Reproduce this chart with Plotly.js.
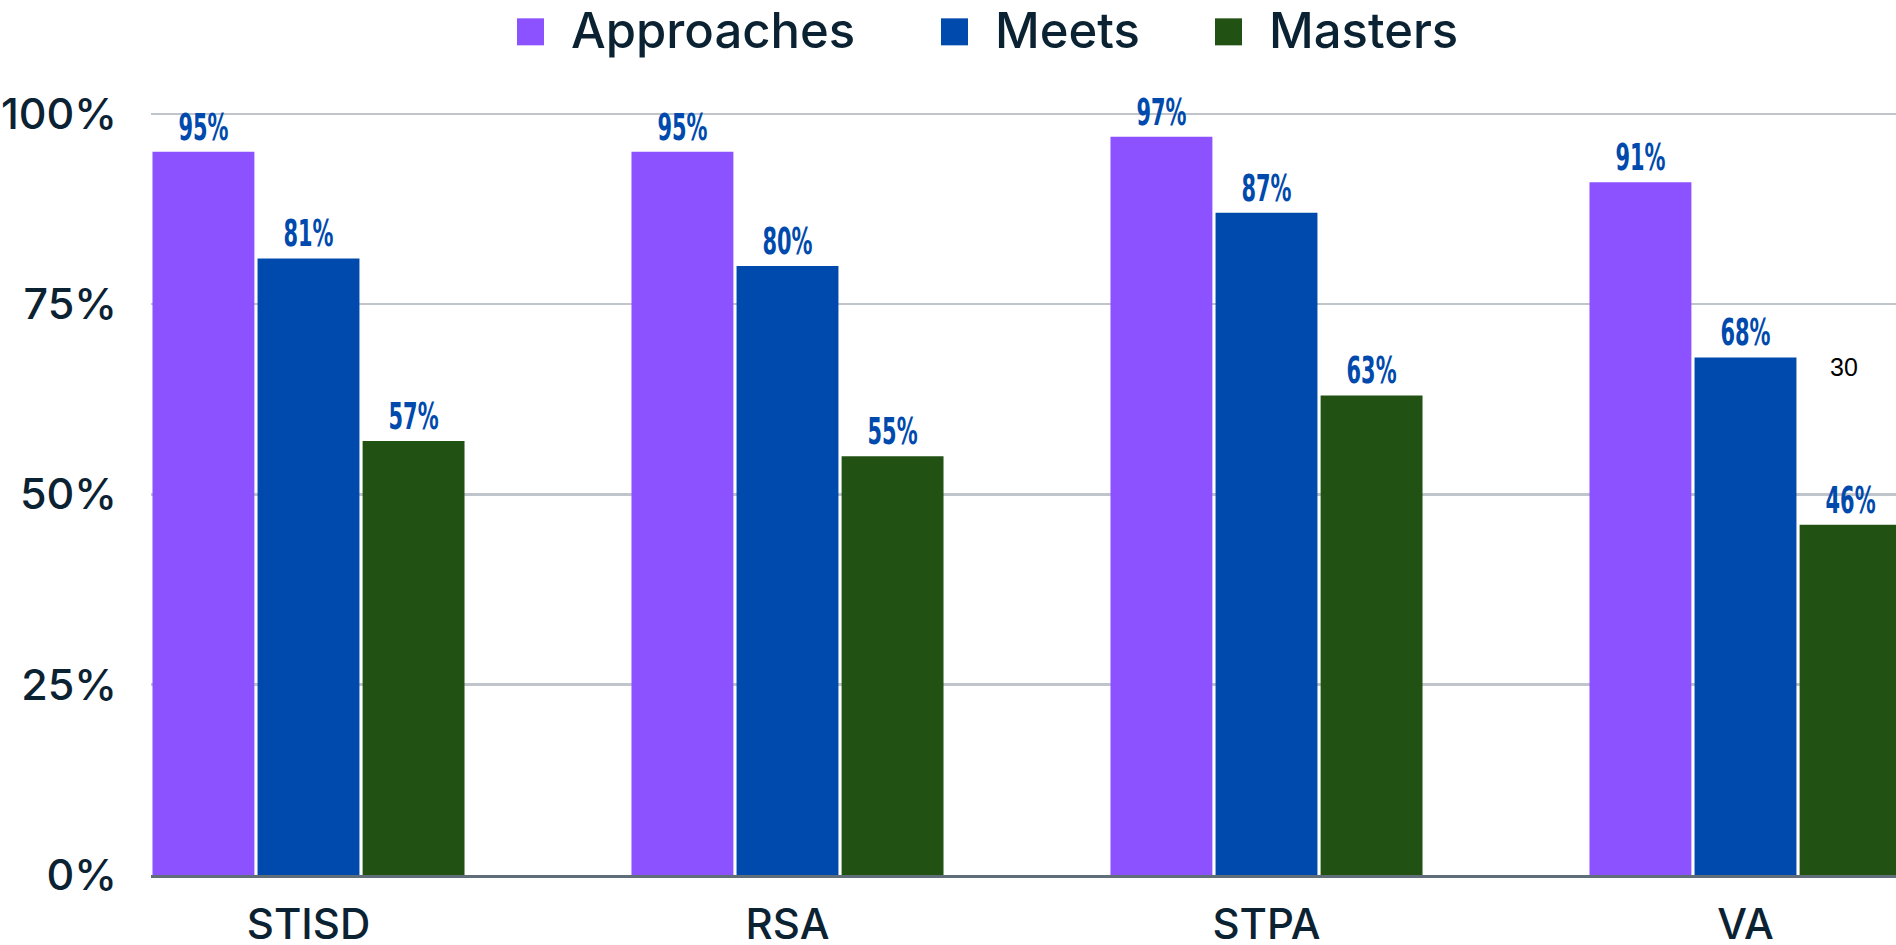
<!DOCTYPE html>
<html>
<head>
<meta charset="utf-8">
<script src="https://cdn.plot.ly/plotly-3.0.1.min.js"></script>
<style>html,body{margin:0;padding:0;background:#fff;}#chart{width:1896px;height:945px;}</style>
</head>
<body>
<div id="chart"></div>
<script>
// ---- data ----
const categories = ['STISD', 'RSA', 'STPA', 'VA'];
const seriesNames = ['Approaches', 'Meets', 'Masters'];
const approaches = [95, 95, 97, 91];
const meets = [81, 80, 87, 68];
const masters = [57, 55, 63, 46];
const yTicks = [0, 25, 50, 75, 100];
const strayLabel = '30';

// ---- styling ----
const colors = ['#8c52ff', '#004aad', '#225213'];
const textDark = '#0b2233';
const W = 1896, H = 945;
const yMax = 100.5;
const pxPerUnit = 7.615;
const M = {l: 151, r: 0, t: 113.5 - (yMax - 100) * pxPerUnit, b: 70};
const plotW = W - M.l - M.r, plotH = H - M.t - M.b;
const px2paperX = px => (px - M.l) / plotW;
const px2paperY = py => (H - M.b - py) / plotH;

const values = [approaches, meets, masters];
const traces = values.map((v, i) => ({
  type: 'bar',
  name: seriesNames[i],
  x: categories,
  y: v,
  marker: {color: colors[i]},
  text: v.map(d => d + '%'),
  textposition: 'outside',
  constraintext: 'none',
  textfont: {family: 'DejaVu Sans Condensed, DejaVu Sans, sans-serif', size: 38, weight: 'bold', color: '#004aad'},
  cliponaxis: false,
  showlegend: false,
  hoverinfo: 'skip'
}));

// custom legend (large square swatches)
const legendSquareX = [517, 941, 1215];
const shapes = [];
const annotations = [];
seriesNames.forEach((n, i) => {
  shapes.push({
    type: 'rect', xref: 'paper', yref: 'paper',
    x0: px2paperX(legendSquareX[i]), x1: px2paperX(legendSquareX[i] + 27),
    y0: px2paperY(45), y1: px2paperY(18),
    fillcolor: colors[i], line: {width: 0}
  });
  annotations.push({
    xref: 'paper', yref: 'paper',
    x: px2paperX(legendSquareX[i] + 52), y: px2paperY(30),
    xanchor: 'left', yanchor: 'middle', showarrow: false,
    text: n,
    font: {family: 'Inter, sans-serif', size: 49, weight: 500, color: textDark}
  });
});
annotations.push({
  xref: 'paper', yref: 'paper',
  x: px2paperX(1844), y: px2paperY(367),
  xanchor: 'center', yanchor: 'middle', showarrow: false,
  text: strayLabel,
  font: {family: 'Liberation Sans, Arial, sans-serif', size: 25, color: '#000'}
});

const catW = 479;
const firstCenter = 308.5;
const layout = {
  width: W, height: H,
  margin: M,
  paper_bgcolor: '#fff', plot_bgcolor: '#fff',
  barmode: 'group',
  bargap: 0.342,
  bargroupgap: 0.03,
  showlegend: false,
  xaxis: {
    type: 'category',
    range: [-(firstCenter - M.l) / catW, -(firstCenter - M.l) / catW + plotW / catW],
    showgrid: false,
    showline: true, linecolor: '#5f6e79', linewidth: 3,
    ticks: '', ticklabelstandoff: 11,
    tickfont: {family: 'Inter, sans-serif', size: 42, weight: 500, color: textDark},
    zeroline: false, fixedrange: true
  },
  yaxis: {
    range: [0, yMax],
    tickvals: yTicks,
    ticktext: yTicks.map(t => t + '%'),
    showgrid: true, gridcolor: '#c0c5cc', gridwidth: 2.5,
    zeroline: false, showline: false,
    ticks: '', ticklabelstandoff: 33,
    tickfont: {family: 'Inter, sans-serif', size: 43, weight: 500, color: textDark},
    fixedrange: true
  },
  shapes: shapes,
  annotations: annotations
};

Plotly.newPlot('chart', traces, layout, {displayModeBar: false, staticPlot: true}).then(() => {
  // condense the value labels horizontally (narrow display face look)
  document.querySelectorAll('#chart .bartext').forEach(t => {
    t.setAttribute('textLength', 50);
    t.setAttribute('lengthAdjust', 'spacingAndGlyphs');
  });
});
</script>
</body>
</html>
